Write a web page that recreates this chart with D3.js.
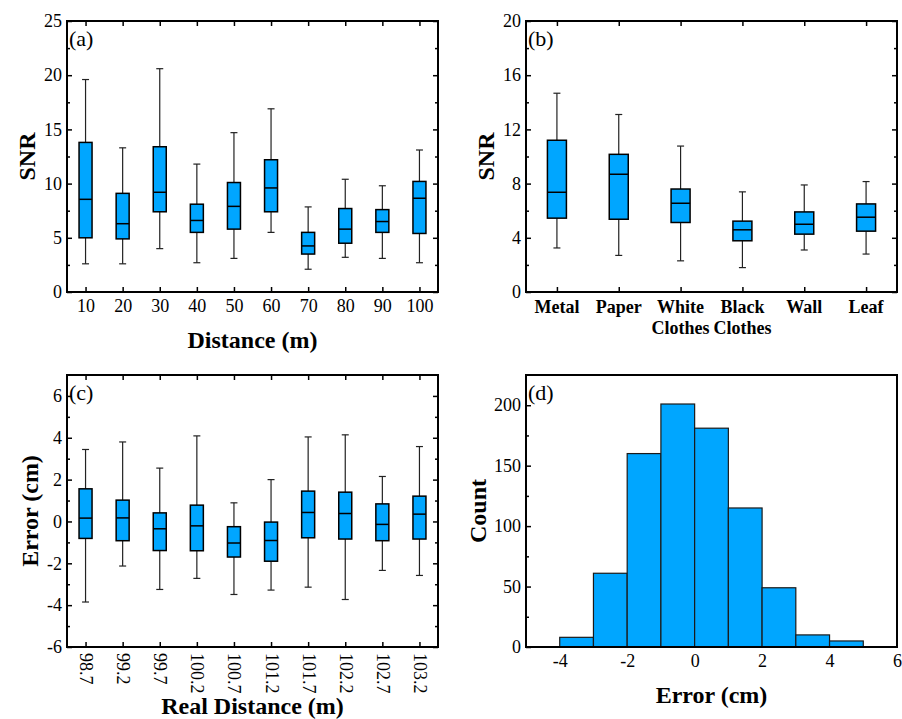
<!DOCTYPE html>
<html>
<head>
<meta charset="utf-8">
<script src="https://cdn.jsdelivr.net/npm/d3@7"></script>
<style>
  body { margin: 0; background: #fff; }
  svg { display: block; }
  text { font-family: "Liberation Serif", "Times New Roman", serif; fill: #000; }
</style>
</head>
<body>
<svg id="fig" width="902" height="719"></svg>
<script>
// ---------- (a) SNR versus distance ----------
const distanceLabels = ["10", "20", "30", "40", "50", "60", "70", "80", "90", "100"];
const distLow    = [2.6, 2.6, 4.0, 2.7, 3.1, 5.5, 2.1, 3.2, 3.1, 2.7];
const distQ1     = [5.0, 4.9, 7.4, 5.5, 5.8, 7.4, 3.5, 4.5, 5.5, 5.4];
const distMedian = [8.55, 6.3, 9.2, 6.6, 7.9, 9.6, 4.25, 5.8, 6.5, 8.65];
const distQ3     = [13.8, 9.1, 13.4, 8.1, 10.1, 12.2, 5.5, 7.7, 7.6, 10.2];
const distHigh   = [19.6, 13.3, 20.6, 11.8, 14.7, 16.9, 7.85, 10.4, 9.8, 13.1];
const snrDistTicks = [0, 5, 10, 15, 20, 25];
const snrDistMinor = [2.5, 7.5, 12.5, 17.5, 22.5];

// ---------- (b) SNR versus target material ----------
const materialLabels = [["Metal"], ["Paper"], ["White", "Clothes"], ["Black", "Clothes"], ["Wall"], ["Leaf"]];
const matLow    = [3.25, 2.7, 2.3, 1.8, 3.1, 2.8];
const matQ1     = [5.45, 5.37, 5.13, 3.78, 4.27, 4.49];
const matMedian = [7.36, 8.69, 6.55, 4.59, 5.0, 5.52];
const matQ3     = [11.2, 10.16, 7.6, 5.23, 5.91, 6.5];
const matHigh   = [14.67, 13.1, 10.77, 7.39, 7.9, 8.15];
const snrMatTicks = [0, 4, 8, 12, 16, 20];
const snrMatMinor = [2, 6, 10, 14, 18];

// ---------- (c) ranging error versus real distance ----------
const realDistLabels = ["98.7", "99.2", "99.7", "100.2", "100.7", "101.2", "101.7", "102.2", "102.7", "103.2"];
const errLow    = [-3.85, -2.13, -3.25, -2.72, -3.49, -3.28, -3.14, -3.73, -2.34, -2.58];
const errQ1     = [-0.81, -0.92, -1.39, -1.4, -1.7, -1.9, -0.78, -0.84, -0.92, -0.84];
const errMedian = [0.16, 0.17, -0.35, -0.21, -1.03, -0.91, 0.43, 0.38, -0.14, 0.35];
const errQ3     = [1.56, 1.02, 0.41, 0.78, -0.25, -0.03, 1.45, 1.4, 0.84, 1.21];
const errHigh   = [3.44, 3.8, 2.55, 4.09, 0.89, 2.0, 4.04, 4.14, 2.15, 3.58];
const errTicks = [-6, -4, -2, 0, 2, 4, 6];
const errMinor = [-5, -3, -1, 1, 3, 5];

// ---------- (d) error histogram ----------
const binStarts   = [-5, -4, -3, -2, -1, 0, 1, 2, 3, 4, 5];
const errorCounts = [0, 8, 61, 160, 201, 181, 115, 49, 10, 5, 0];
const histXTicks = [-4, -2, 0, 2, 4, 6];
const countTicks = [0, 50, 100, 150, 200];
const countMinor = [25, 75, 125, 175];

const FILL = "#00A6FF";
const plain = d => String(d);   // hyphen-minus, as in the printed figure
const svg = d3.select("#fig");

function styleAxis(sel, size) {
  sel.select(".domain").remove();
  sel.attr("font-family", null).attr("font-size", null);
  sel.selectAll(".tick line").attr("stroke", "#000").attr("stroke-width", 1.5);
  sel.selectAll(".tick text").style("font-size", (size || 18) + "px");
}

function frame(g, w, h) {
  g.append("rect").attr("width", w).attr("height", h)
    .attr("fill", "none").attr("stroke", "#000").attr("stroke-width", 2);
}

function yAxes(g, y, w, major, minor, withRight) {
  g.append("g").call(d3.axisLeft(y).tickValues(major).tickSize(-5).tickPadding(5).tickFormat(plain)).call(styleAxis);
  g.append("g").call(d3.axisLeft(y).tickValues(minor).tickSize(-3).tickFormat("")).call(styleAxis);
  if (withRight) {
    g.append("g").attr("transform", `translate(${w},0)`)
      .call(d3.axisRight(y).tickValues(major).tickSize(-5).tickFormat("")).call(styleAxis);
    g.append("g").attr("transform", `translate(${w},0)`)
      .call(d3.axisRight(y).tickValues(minor).tickSize(-3).tickFormat("")).call(styleAxis);
  }
}

function boxes(g, x, y, cats, low, q1, med, q3, high, bw) {
  const capW = 7;
  cats.forEach((c, i) => {
    const cx = x(c);
    const b = g.append("g");
    // whiskers
    [[low[i], q1[i]], [q3[i], high[i]]].forEach(([a, z]) => {
      b.append("line").attr("x1", cx).attr("x2", cx).attr("y1", y(a)).attr("y2", y(z))
        .attr("stroke", "#222").attr("stroke-width", 1.2);
    });
    [low[i], high[i]].forEach(v => {
      b.append("line").attr("x1", cx - capW / 2).attr("x2", cx + capW / 2)
        .attr("y1", y(v)).attr("y2", y(v)).attr("stroke", "#222").attr("stroke-width", 1.2);
    });
    b.append("rect").attr("x", cx - bw / 2).attr("width", bw)
      .attr("y", y(q3[i])).attr("height", y(q1[i]) - y(q3[i]))
      .attr("fill", FILL).attr("stroke", "#000").attr("stroke-width", 1.5);
    b.append("line").attr("x1", cx - bw / 2).attr("x2", cx + bw / 2)
      .attr("y1", y(med[i])).attr("y2", y(med[i])).attr("stroke", "#000").attr("stroke-width", 1.5);
  });
}

function panelLabel(g, t) {
  g.append("text").attr("x", 2).attr("y", 25).style("font-size", "22px").text(t);
}

function yTitle(px, py, t) {
  svg.append("text").attr("transform", `translate(${px},${py}) rotate(-90)`)
    .attr("text-anchor", "middle").style("font-size", "24px").style("font-weight", "bold").text(t);
}
function xTitle(px, py, t) {
  svg.append("text").attr("x", px).attr("y", py)
    .attr("text-anchor", "middle").style("font-size", "24px").style("font-weight", "bold").text(t);
}

// ===== Panel (a) =====
{
  const L = 67, T = 21, W = 371, H = 271;
  const g = svg.append("g").attr("transform", `translate(${L},${T})`);
  const x = d3.scalePoint().domain(distanceLabels).range([0, W]).padding(0.5);
  const y = d3.scaleLinear().domain([0, 25]).range([H, 0]);
  boxes(g, x, y, distanceLabels, distLow, distQ1, distMedian, distQ3, distHigh, 13);
  yAxes(g, y, W, snrDistTicks, snrDistMinor, true);
  g.append("g").attr("transform", `translate(0,${H})`)
    .call(d3.axisBottom(x).tickSize(-5).tickPadding(7)).call(styleAxis);
  g.append("g").call(d3.axisTop(x).tickSize(-5).tickFormat("")).call(styleAxis);
  frame(g, W, H);
  panelLabel(g, "(a)");
  yTitle(35, T + H / 2, "SNR");
  xTitle(L + W / 2, 348, "Distance (m)");
}

// ===== Panel (b) =====
{
  const L = 526, T = 21, W = 371, H = 271;
  const g = svg.append("g").attr("transform", `translate(${L},${T})`);
  const keys = materialLabels.map(d => d.join(" "));
  const x = d3.scalePoint().domain(keys).range([0, W]).padding(0.5);
  const y = d3.scaleLinear().domain([0, 20]).range([H, 0]);
  boxes(g, x, y, keys, matLow, matQ1, matMedian, matQ3, matHigh, 19);
  yAxes(g, y, W, snrMatTicks, snrMatMinor, true);
  g.append("g").attr("transform", `translate(0,${H})`)
    .call(d3.axisBottom(x).tickSize(-5).tickFormat("")).call(styleAxis);
  g.append("g").call(d3.axisTop(x).tickSize(-5).tickFormat("")).call(styleAxis);
  // two-line bold category names
  materialLabels.forEach((lines, i) => {
    const t = g.append("text").attr("text-anchor", "middle")
      .attr("transform", `translate(${x(keys[i])},${H + 21})`)
      .style("font-size", "18px").style("font-weight", "bold");
    lines.forEach((s, j) => t.append("tspan").attr("x", 0).attr("y", j * 21).text(s));
  });
  frame(g, W, H);
  panelLabel(g, "(b)");
  yTitle(494, T + H / 2, "SNR");
}

// ===== Panel (c) =====
{
  const L = 67, T = 375, W = 371, H = 272;
  const g = svg.append("g").attr("transform", `translate(${L},${T})`);
  const x = d3.scalePoint().domain(realDistLabels).range([0, W]).padding(0.5);
  const y = d3.scaleLinear().domain([-6, 7]).range([H, 0]);
  boxes(g, x, y, realDistLabels, errLow, errQ1, errMedian, errQ3, errHigh, 13);
  yAxes(g, y, W, errTicks, errMinor, true);
  const xa = g.append("g").attr("transform", `translate(0,${H})`)
    .call(d3.axisBottom(x).tickSize(-5)).call(styleAxis);
  xa.selectAll(".tick text")
    .attr("transform", "rotate(90)").attr("x", 6).attr("y", 0).attr("dy", "0.33em")
    .attr("text-anchor", "start");
  g.append("g").call(d3.axisTop(x).tickSize(-5).tickFormat("")).call(styleAxis);
  frame(g, W, H);
  panelLabel(g, "(c)");
  yTitle(38, T + H / 2, "Error (cm)");
  xTitle(L + W / 2, 714, "Real Distance (m)");
}

// ===== Panel (d) =====
{
  const L = 526, T = 375, W = 371, H = 272;
  const g = svg.append("g").attr("transform", `translate(${L},${T})`);
  const x = d3.scaleLinear().domain([-5, 6]).range([0, W]);
  const y = d3.scaleLinear().domain([0, 225]).range([H, 0]);
  g.selectAll("rect.bin")
    .data(binStarts.map((s, i) => ({ s, c: errorCounts[i] })).filter(d => d.c > 0))
    .join("rect").attr("class", "bin")
    .attr("x", d => x(d.s)).attr("width", d => x(d.s + 1) - x(d.s))
    .attr("y", d => y(d.c)).attr("height", d => y(0) - y(d.c))
    .attr("fill", FILL).attr("stroke", "#1a1a1a").attr("stroke-width", 1.2);
  yAxes(g, y, W, countTicks, countMinor, false);
  g.append("g").attr("transform", `translate(0,${H})`)
    .call(d3.axisBottom(x).tickValues(histXTicks).tickSize(0).tickPadding(7).tickFormat(plain)).call(styleAxis);
  frame(g, W, H);
  panelLabel(g, "(d)");
  yTitle(486, T + H / 2, "Count");
  xTitle(L + W / 2, 703, "Error (cm)");
}
</script>
</body>
</html>
